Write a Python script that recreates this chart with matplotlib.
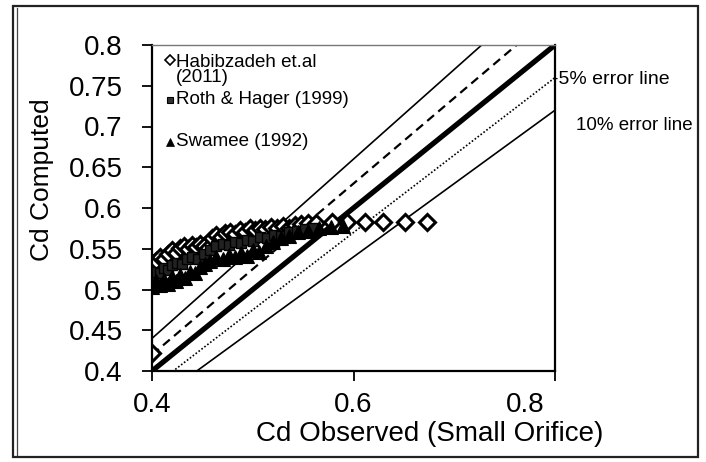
import matplotlib
matplotlib.use("Agg")
import matplotlib.pyplot as plt
import matplotlib.transforms as mtransforms
from matplotlib.lines import Line2D
from matplotlib.patches import Rectangle

plt.rcParams['font.family'] = ['Liberation Sans', 'DejaVu Sans']

# ---- data ----
hab_x = [0.400, 0.400, 0.404, 0.408, 0.412, 0.416, 0.420, 0.424, 0.428, 0.432, 0.436,
         0.440, 0.444, 0.448, 0.452, 0.456, 0.460, 0.464, 0.468, 0.472, 0.477, 0.482,
         0.487, 0.492, 0.497, 0.502, 0.507, 0.512, 0.518, 0.524, 0.530, 0.536, 0.542,
         0.548, 0.555, 0.563, 0.579, 0.594, 0.611, 0.629, 0.651, 0.673]
hab_y = [0.422, 0.533, 0.535, 0.540, 0.537, 0.543, 0.548, 0.545, 0.551, 0.553, 0.550,
         0.554, 0.552, 0.556, 0.553, 0.551, 0.563, 0.567, 0.565, 0.569, 0.571, 0.568,
         0.573, 0.571, 0.575, 0.573, 0.576, 0.574, 0.577, 0.575, 0.578, 0.576, 0.579,
         0.580, 0.581, 0.582, 0.583, 0.583, 0.583, 0.583, 0.583, 0.583]

roth_x = [0.400, 0.404, 0.408, 0.412, 0.416, 0.420, 0.425, 0.430, 0.435, 0.440, 0.446,
          0.452, 0.458, 0.464, 0.470, 0.476, 0.482, 0.488, 0.494, 0.500, 0.507, 0.514,
          0.521, 0.528, 0.536, 0.544, 0.552, 0.560]
roth_y = [0.518, 0.522, 0.520, 0.526, 0.524, 0.530, 0.533, 0.531, 0.537, 0.540, 0.538,
          0.543, 0.548, 0.553, 0.556, 0.554, 0.558, 0.557, 0.561, 0.560, 0.564, 0.563,
          0.567, 0.566, 0.570, 0.572, 0.574, 0.576]

sw_x = [0.400, 0.404, 0.408, 0.412, 0.416, 0.420, 0.424, 0.428, 0.433, 0.438, 0.443,
        0.448, 0.453, 0.458, 0.464, 0.470, 0.476, 0.482, 0.488, 0.494, 0.500, 0.506,
        0.513, 0.520, 0.528, 0.536, 0.545, 0.555, 0.566, 0.578, 0.590]
sw_y = [0.503, 0.510, 0.506, 0.512, 0.507, 0.515, 0.511, 0.518, 0.514, 0.522, 0.520,
        0.527, 0.531, 0.535, 0.540, 0.538, 0.542, 0.540, 0.545, 0.541, 0.548, 0.546,
        0.553, 0.558, 0.563, 0.566, 0.570, 0.572, 0.575, 0.577, 0.578]

line_x = [0.4, 0.8]
factor_plus10, factor_plus5, factor_eq, factor_minus5, factor_minus10 = 1.10, 1.05, 1.00, 0.95, 0.90

series_labels = ["Habibzadeh et.al\n(2011)", "Roth & Hager (1999)", "Swamee (1992)"]
x_ticks = [0.4, 0.6, 0.8]
y_ticks = [0.4, 0.45, 0.5, 0.55, 0.6, 0.65, 0.7, 0.75, 0.8]
x_label = "Cd Observed (Small Orifice)"
y_label = "Cd Computed"

# ---- figure ----
W, H = 706, 462
fig = plt.figure(figsize=(W / 100, H / 100), dpi=100)
ax = fig.add_axes([152 / W, 1 - 371 / H, (555 - 152) / W, (371 - 45) / H])

def px(x, y):
    return (x / W, 1 - y / H)

# outer chart border
fig.patches.append(Rectangle(px(13, 457), (698 - 13) / W, (457 - 6) / H,
                             transform=fig.transFigure, fill=False, lw=1.6,
                             edgecolor='#222222'))
fig.lines.append(Line2D([17 / W, 17 / W], [1 - 455 / H, 1 - 8 / H],
                        transform=fig.transFigure, color='#444444', lw=0.9))

# reference lines
def fl(f):
    return [f * v for v in line_x]

ax.plot(line_x, fl(factor_plus10), color='black', lw=1.2)
ax.plot(line_x, fl(factor_minus10), color='black', lw=1.2)
ax.plot(line_x, fl(factor_plus5), color='black', lw=1.6, dashes=(4, 2.5))
ax.plot(line_x, fl(factor_minus5), color='black', lw=1.2, dashes=(1, 1.2))
ax.plot(line_x, fl(factor_eq), color='black', lw=3.8, solid_capstyle='butt')

# data series
ax.plot(hab_x, hab_y, ls='none', marker='D', ms=8, mfc='white', mec='black', mew=2.2)
ax.plot(roth_x, roth_y, ls='none', marker='s', ms=6.5, mfc='#222222', mec='black', mew=1)
ax.plot(sw_x, sw_y, ls='none', marker='^', ms=9.5, mfc='black', mec='black', mew=0.8)

ax.set_xlim(0.4, 0.8)
ax.set_ylim(0.4, 0.8)
ax.set_xticks(x_ticks)
ax.set_xticklabels([f"{v:g}" for v in x_ticks])
ax.set_yticks(y_ticks)
ax.set_yticklabels([f"{v:g}" for v in y_ticks])

ax.tick_params(axis='both', direction='out', length=7, width=1.3, labelsize=20,
               colors='black')
ax.tick_params(axis='y', pad=14)
ax.tick_params(axis='x', pad=8)

for s in ['left', 'bottom', 'right']:
    ax.spines[s].set_linewidth(1.6)
    ax.spines[s].set_color('black')
ax.spines['top'].set_linewidth(1.0)
ax.spines['top'].set_color('#777777')

ax.set_xlabel(x_label, fontsize=20)
ax.set_ylabel(y_label, fontsize=19)
ax.xaxis.set_label_coords((430 - 152) / 403, (371 - 421) / 326)
ax.yaxis.set_label_coords((54 - 152) / 403, (371 - 180) / 326)

# shift last x tick label to the left like in the reference
fig.canvas.draw()
lbls = ax.get_xticklabels()
lbls[-1].set_transform(lbls[-1].get_transform() +
                       mtransforms.ScaledTranslation(-30 / 100, 0, fig.dpi_scale_trans))

# legend (manual, inside plot)
leg_items = [
    (series_labels[0], dict(marker='D', ms=5, mfc='white', mec='black', mew=1.2), 60, 70),
    (series_labels[1], dict(marker='s', ms=5, mfc='#333333', mec='black', mew=0.8), 100, 100),
    (series_labels[2], dict(marker='^', ms=6, mfc='black', mec='black', mew=0.5), 142, 142),
]
for text, mk, ymk, ytxt in leg_items:
    fig.lines.append(Line2D([170 / W], [1 - ymk / H], transform=fig.transFigure,
                            ls='none', **mk))
    fig.text(176 / W, 1 - ytxt / H, text, fontsize=13.5, ha='left', va='center',
             linespacing=0.85)

# error line labels
fig.text(552 / W, 1 - 80 / H, "-5% error line", fontsize=14, ha='left', va='center')
fig.text(576 / W, 1 - 125 / H, "10% error line", fontsize=13.5, ha='left', va='center')

fig.savefig("out.png", dpi=100)
